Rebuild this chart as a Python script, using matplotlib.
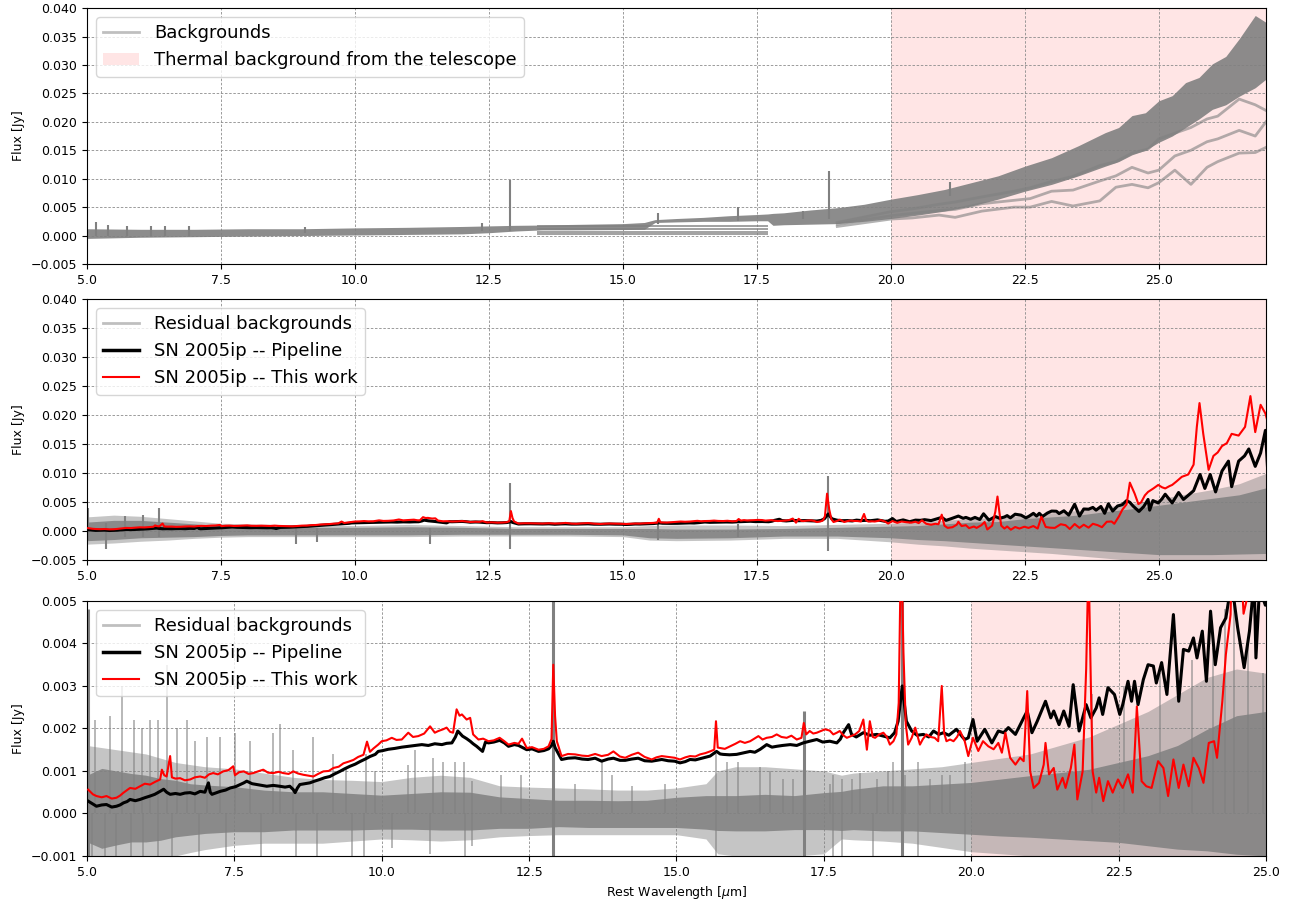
import numpy as np
import matplotlib
matplotlib.use('Agg')
import matplotlib.pyplot as plt
from matplotlib.lines import Line2D
from matplotlib.patches import Patch

# ---- SN 2005ip spectra (wavelength in micron, flux in mJy)
red_wl = [5.02, 5.10, 5.16, 5.25, 5.33, 5.42, 5.50, 5.56, 5.62, 5.68, 5.73, 5.82, 5.90, 5.98, 6.07, 6.15, 6.24, 6.27,
          6.31, 6.35, 6.41, 6.44, 6.50, 6.58, 6.66, 6.75, 6.83, 6.92, 7.00, 7.07, 7.14, 7.22, 7.31, 7.40, 7.48, 7.51,
          7.58, 7.66, 7.74, 7.82, 7.90, 7.99, 8.07, 8.16, 8.25, 8.33, 8.42, 8.50, 8.58, 8.67, 8.75, 8.84, 8.92, 9.01,
          9.10, 9.18, 9.27, 9.35, 9.44, 9.52, 9.60, 9.69, 9.75, 9.80, 9.86, 9.94, 10.00, 10.08, 10.17, 10.25, 10.34,
          10.45, 10.53, 10.62, 10.72, 10.82, 10.90, 10.96, 11.04, 11.10, 11.16, 11.21, 11.27, 11.32, 11.36, 11.44,
          11.50, 11.55, 11.64, 11.72, 11.81, 11.90, 12.00, 12.08, 12.15, 12.25, 12.32, 12.38, 12.46, 12.55, 12.66,
          12.75, 12.83, 12.88, 12.91, 12.94, 12.97, 13.05, 13.16, 13.28, 13.40, 13.50, 13.62, 13.73, 13.84, 13.93,
          14.04, 14.13, 14.24, 14.35, 14.46, 14.58, 14.66, 14.75, 14.86, 14.97, 15.06, 15.15, 15.23, 15.32, 15.40,
          15.49, 15.57, 15.64, 15.67, 15.70, 15.74, 15.82, 15.91, 16.00, 16.08, 16.16, 16.25, 16.32, 16.39, 16.46,
          16.53, 16.62, 16.70, 16.78, 16.87, 16.95, 17.04, 17.12, 17.16, 17.20, 17.26, 17.32, 17.38, 17.45, 17.52,
          17.60, 17.66, 17.72, 17.77, 17.83, 17.89, 17.96, 18.03, 18.10, 18.17, 18.23, 18.28, 18.33, 18.37, 18.44,
          18.51, 18.57, 18.62, 18.68, 18.73, 18.77, 18.81, 18.85, 18.89, 18.93, 18.99, 19.05, 19.13, 19.18, 19.24,
          19.31, 19.38, 19.44, 19.50, 19.54, 19.58, 19.64, 19.70, 19.76, 19.81, 19.89, 19.95, 20.03, 20.12, 20.20,
          20.29, 20.38, 20.46, 20.52, 20.58, 20.66, 20.75, 20.83, 20.89, 20.95, 21.00, 21.06, 21.15, 21.23, 21.26,
          21.32, 21.40, 21.46, 21.55, 21.60, 21.69, 21.75, 21.80, 21.89, 21.95, 21.99, 22.03, 22.06, 22.12, 22.17,
          22.24, 22.32, 22.40, 22.49, 22.57, 22.66, 22.74, 22.81, 22.89, 22.97, 23.06, 23.17, 23.26, 23.34, 23.43,
          23.52, 23.60, 23.69, 23.77, 23.86, 23.94, 24.03, 24.12, 24.17, 24.26, 24.32, 24.40, 24.46, 24.55, 24.62,
          24.67, 24.74, 24.80, 24.90, 24.99, 25.06, 25.12, 25.20, 25.25, 25.33, 25.43, 25.55, 25.65, 25.71, 25.76,
          25.83, 25.93, 26.02, 26.10, 26.18, 26.27, 26.36, 26.49, 26.61, 26.71, 26.80, 26.90, 26.99, 27.05]
red_flux = [0.56, 0.45, 0.41, 0.38, 0.41, 0.35, 0.37, 0.42, 0.49, 0.55, 0.60, 0.58, 0.64, 0.70, 0.68, 0.74, 0.80, 1.03,
            0.90, 0.87, 1.35, 0.85, 0.82, 0.83, 0.78, 0.80, 0.85, 0.87, 0.84, 0.92, 0.95, 0.92, 0.99, 1.02, 1.11, 0.90,
            0.97, 0.99, 0.93, 0.95, 0.99, 1.03, 0.96, 0.95, 0.98, 0.95, 0.93, 0.99, 0.94, 0.91, 0.89, 0.87, 0.93, 0.99,
            1.00, 1.07, 1.10, 1.18, 1.22, 1.26, 1.33, 1.38, 1.69, 1.45, 1.53, 1.62, 1.70, 1.72, 1.78, 1.73, 1.74,
            1.90, 1.80, 1.82, 1.88, 2.05, 1.90, 1.94, 1.98, 2.02, 1.92, 1.90, 2.45, 2.30, 2.33, 2.21,
            2.25, 1.86, 1.74, 1.76, 1.70, 1.72, 1.78, 1.70, 1.62, 1.66, 1.64, 1.76, 1.54, 1.56, 1.50,
            1.52, 1.58, 1.75, 3.50, 2.30, 1.70, 1.35, 1.40, 1.39, 1.36, 1.35, 1.40, 1.35, 1.38, 1.46,
            1.34, 1.31, 1.38, 1.43, 1.33, 1.27, 1.32, 1.35, 1.33, 1.31, 1.27, 1.32, 1.35, 1.34, 1.39,
            1.42, 1.46, 1.50, 2.17, 1.55, 1.54, 1.52, 1.58, 1.64, 1.70, 1.66, 1.70, 1.76, 1.82, 1.74,
            1.78, 1.80, 1.86, 1.80, 1.78, 1.83, 1.74, 1.78, 2.13, 1.86, 1.94, 1.88, 1.90, 1.94, 1.98,
            1.95, 1.86, 1.90, 1.94, 1.84, 1.78, 1.82, 1.86, 1.94, 2.21, 1.50, 2.17, 1.80, 1.78, 1.86,
            1.90, 1.80, 1.62, 1.70, 1.86, 2.60, 6.50, 3.80, 2.10, 1.62, 1.78, 2.02, 1.62, 1.75, 1.86,
            1.80, 1.78, 1.70, 3.00, 1.90, 1.70, 1.74, 1.70, 1.80, 1.94, 1.70, 1.35, 1.78, 1.47, 1.70,
            1.58, 1.51, 1.66, 1.43, 1.90, 1.31, 1.15, 1.31, 1.23, 2.88, 0.99, 0.60, 0.72, 1.15, 1.66,
            0.92, 1.07, 0.56, 0.84, 0.60, 1.07, 1.62, 0.33, 0.99, 3.40, 6.00, 3.00, 0.99, 0.49, 0.84,
            0.29, 0.76, 0.49, 0.80, 0.60, 0.92, 0.49, 2.52, 0.76, 0.64, 0.60, 1.23, 1.07, 0.41, 1.27,
            0.60, 1.15, 0.64, 1.31, 1.07, 0.72, 1.66, 1.70, 1.31, 2.64, 3.74, 4.68, 8.40, 6.50, 4.70,
            5.00, 6.20, 6.80, 7.40, 8.00, 7.60, 7.40, 7.80, 8.00, 8.60, 9.40, 9.80, 11.5, 18.0, 22.1,
            16.8, 10.6, 13.0, 13.6, 14.7, 15.2, 16.8, 16.5, 18.0, 23.3, 17.1, 21.8, 20.3, 18.3]

black_wl = [5.02, 5.10, 5.16, 5.25, 5.33, 5.42, 5.50, 5.56, 5.62, 5.68, 5.73, 5.82, 5.90, 5.98, 6.07, 6.15, 6.24, 6.30,
            6.35, 6.41, 6.50, 6.58, 6.66, 6.75, 6.83, 6.92, 7.00, 7.06, 7.09, 7.12, 7.20, 7.26, 7.35, 7.43, 7.52, 7.60,
            7.66, 7.71, 7.80, 7.88, 7.96, 8.05, 8.16, 8.27, 8.36, 8.44, 8.50, 8.53, 8.57, 8.61, 8.70, 8.78, 8.86, 8.95,
            9.03, 9.12, 9.20, 9.29, 9.37, 9.46, 9.55, 9.63, 9.72, 9.80, 9.89, 9.94, 10.02, 10.11, 10.22, 10.34, 10.45,
            10.56, 10.68, 10.79, 10.90, 11.02, 11.10, 11.19, 11.25, 11.29, 11.33, 11.37, 11.44, 11.50, 11.55, 11.61,
            11.66, 11.71, 11.76, 11.81, 11.90, 12.00, 12.08, 12.15, 12.25, 12.32, 12.46, 12.55, 12.66, 12.75, 12.83,
            12.88, 12.91, 12.94, 13.05, 13.16, 13.28, 13.40, 13.50, 13.62, 13.73, 13.84, 13.93, 14.04, 14.13, 14.24,
            14.35, 14.46, 14.58, 14.66, 14.75, 14.86, 14.97, 15.06, 15.15, 15.23, 15.32, 15.46, 15.57, 15.68, 15.74,
            15.79, 15.90, 16.02, 16.12, 16.25, 16.33, 16.42, 16.53, 16.62, 16.70, 16.80, 16.93, 17.04, 17.15, 17.26,
            17.38, 17.48, 17.60, 17.72, 17.78, 17.83, 17.92, 17.97, 18.05, 18.17, 18.28, 18.40, 18.51, 18.62, 18.70,
            18.76, 18.83, 18.90, 18.99, 19.08, 19.19, 19.28, 19.36, 19.45, 19.53, 19.62, 19.75, 19.85, 19.89, 19.95,
            20.03, 20.10, 20.23, 20.35, 20.46, 20.55, 20.63, 20.75, 20.89, 20.95, 21.03, 21.12, 21.26, 21.35, 21.40,
            21.49, 21.57, 21.66, 21.73, 21.83, 21.95, 22.03, 22.12, 22.17, 22.23, 22.32, 22.43, 22.52, 22.57, 22.66,
            22.72, 22.77, 22.83, 22.92, 23.00, 23.09, 23.14, 23.23, 23.32, 23.43, 23.52, 23.60, 23.69, 23.77, 23.83,
            23.92, 23.99, 24.06, 24.14, 24.23, 24.32, 24.40, 24.46, 24.52, 24.63, 24.72, 24.80, 24.83, 24.89, 24.99,
            25.06, 25.12, 25.25, 25.37, 25.46, 25.55, 25.65, 25.77, 25.86, 25.96, 26.06, 26.18, 26.30, 26.36, 26.49,
            26.60, 26.68, 26.80, 26.90, 26.99, 27.03]
black_flux = [0.29, 0.22, 0.17, 0.20, 0.21, 0.15, 0.17, 0.20, 0.25, 0.28, 0.33, 0.30, 0.33, 0.37, 0.41, 0.45, 0.52, 0.57,
              0.50, 0.45, 0.47, 0.45, 0.48, 0.49, 0.46, 0.52, 0.50, 0.72, 0.50, 0.45, 0.49, 0.52, 0.55, 0.60, 0.63, 0.68,
              0.72, 0.76, 0.70, 0.68, 0.66, 0.64, 0.66, 0.64, 0.62, 0.64, 0.56, 0.49, 0.60, 0.68, 0.70, 0.72, 0.76, 0.80,
              0.84, 0.87, 0.93, 0.99, 1.05, 1.11, 1.16, 1.22, 1.28, 1.34, 1.39, 1.46, 1.48, 1.51, 1.53, 1.56, 1.58,
              1.60, 1.62, 1.60, 1.64, 1.62, 1.65, 1.66, 1.80, 1.94, 1.88, 1.82, 1.76, 1.70, 1.64, 1.58,
              1.52, 1.46, 1.68, 1.66, 1.68, 1.72, 1.66, 1.58, 1.62, 1.60, 1.50, 1.52, 1.46, 1.48, 1.52,
              1.60, 1.70, 1.55, 1.27, 1.30, 1.31, 1.28, 1.27, 1.30, 1.23, 1.28, 1.30, 1.25, 1.25, 1.28,
              1.30, 1.24, 1.23, 1.25, 1.27, 1.24, 1.23, 1.19, 1.22, 1.27, 1.26, 1.31, 1.35, 1.46, 1.40,
              1.39, 1.38, 1.39, 1.42, 1.46, 1.44, 1.51, 1.62, 1.56, 1.58, 1.60, 1.62, 1.60, 1.66, 1.70,
              1.74, 1.68, 1.70, 1.66, 1.75, 1.90, 2.09, 1.86, 1.80, 1.90, 1.84, 1.86, 1.82, 1.78, 1.90,
              2.17, 3.00, 2.17, 1.94, 1.84, 1.86, 1.80, 1.94, 1.86, 1.90, 1.84, 1.98, 1.80, 1.74, 1.78,
              2.21, 1.70, 1.98, 1.66, 1.94, 1.90, 2.02, 1.86, 2.25, 2.41, 1.90, 2.17, 2.64, 2.25, 2.41,
              2.09, 2.41, 2.05, 3.03, 1.94, 2.56, 2.25, 2.48, 2.72, 2.33, 2.96, 2.80, 2.33, 2.56, 3.11,
              2.64, 3.11, 2.56, 3.15, 3.50, 3.47, 3.07, 3.55, 2.80, 4.68, 2.64, 3.86, 3.82, 4.13, 3.66,
              4.29, 3.11, 4.76, 3.50, 4.37, 4.60, 5.30, 5.00, 4.37, 3.43, 4.29, 5.50, 3.66, 5.30, 4.90,
              5.60, 6.40, 4.90, 6.70, 5.50, 6.20, 7.00, 9.80, 7.40, 9.80, 6.80, 10.4, 12.1, 7.70, 12.1,
              13.0, 14.2, 11.2, 13.5, 17.4, 10.9]

# ---- raw backgrounds (top panel), mJy
top_bg_wl = [5, 6, 7, 8, 9, 10, 11, 12, 12.5, 13, 13.5, 14, 15, 15.4, 15.6, 16, 16.5, 17, 17.5, 17.7, 17.8, 18, 18.5,
             19, 19.5, 20, 20.5, 21, 21.5, 22, 22.5, 23, 23.5, 24, 24.25, 24.5, 24.75, 25, 25.25, 25.5, 25.75, 26,
             26.25, 26.5, 26.8, 27]
top_bg_hi = [1.2, 1.1, 1.1, 1.2, 1.2, 1.35, 1.45, 1.6, 1.7, 1.8, 1.85, 1.95, 2.1, 2.3, 2.8, 3.0, 3.2, 3.5, 3.7, 3.8,
             3.9, 4.0, 4.5, 4.9, 5.5, 6.4, 7.2, 8.1, 9.3, 10.5, 12.2, 13.7, 15.8, 18.1, 19.0, 21.1, 21.6, 23.7, 24.6,
             26.9, 27.8, 30.2, 31.5, 34.6, 38.7, 37.5]
top_bg_lo = [-0.5, -0.3, -0.2, -0.1, 0.0, 0.1, 0.2, 0.3, 0.5, 0.8, 1.0, 1.0, 1.05, 1.1, 2.3, 2.4, 2.5, 2.5, 2.6, 2.6,
             1.8, 1.9, 2.0, 2.1, 2.5, 3.0, 3.6, 4.3, 5.2, 6.4, 7.8, 9.0, 10.5, 12.2, 13.0, 14.2, 15.0, 16.4, 17.5,
             19.0, 20.5, 22.2, 23.0, 24.5, 26.0, 27.5]
top_flat_levels = [0.2, 0.65, 1.15, 1.65]
top_flat_start = 13.4
top_flat_end = 17.7
top_low_wl = [19.0, 20.0, 20.4, 20.9, 21.2, 21.7, 22.3, 22.6, 23.0, 23.4, 23.9, 24.2, 24.5, 24.8, 25.0, 25.3, 25.6,
              25.9, 26.1, 26.5, 26.8, 27.0]
top_low_1 = [1.6, 2.9, 3.1, 3.6, 3.2, 4.3, 5.0, 5.0, 6.0, 5.2, 6.1, 8.5, 9.0, 8.4, 9.3, 11.5, 9.0, 12.0, 13.0, 14.5,
             14.6, 15.5]
top_low_2 = [2.0, 3.5, 3.9, 4.4, 4.6, 5.6, 6.2, 6.5, 7.8, 8.0, 9.6, 10.5, 12.0, 11.0, 11.5, 14.0, 15.0, 16.5, 17.0,
             18.5, 17.5, 20.0]
top_low_3 = [2.3, 4.2, 4.7, 5.5, 5.9, 6.8, 7.8, 8.4, 9.5, 10.4, 12.3, 13.0, 14.5, 15.2, 17.0, 18.0, 19.0, 20.5, 21.0,
             24.0, 23.0, 22.0]
top_spike_wl = [5.17, 5.40, 5.75, 6.20, 6.45, 6.90, 9.07, 12.38, 12.90, 15.66, 17.15, 18.37, 18.85, 21.10]
top_spike_lo = [0.0, 0.0, 0.0, 0.0, 0.0, 0.0, 0.5, 0.8, 0.8, 2.0, 2.5, 3.0, 3.0, 7.0]
top_spike_hi = [2.3, 1.9, 1.6, 1.7, 1.6, 1.6, 1.5, 2.2, 9.8, 4.0, 5.1, 4.4, 11.3, 9.5]

# ---- residual backgrounds (middle panel), mJy
mid_bg_wl = [5, 5.5, 6, 6.5, 7, 7.5, 8, 9, 10, 11, 12, 13, 14, 15, 15.5, 16, 17, 18, 19, 20, 20.5, 21, 21.5, 22, 22.5,
             23, 23.5, 24, 24.5, 25, 25.5, 26, 26.5, 27]
mid_bg_hi = [1.6, 1.9, 1.9, 1.6, 1.3, 0.9, 1.0, 0.7, 0.7, 0.8, 0.7, 0.5, 0.5, 0.5, 0.5, 0.4, 0.4, 0.5, 0.7, 0.9, 1.0,
             1.3, 1.6, 1.7, 2.2, 2.5, 2.8, 3.4, 3.9, 4.5, 5.1, 5.7, 6.3, 7.5]
mid_bg_lo = [-1.6, -1.4, -1.1, -1.0, -0.9, -0.7, -0.6, -0.6, -0.6, -0.6, -0.5, -0.5, -0.5, -0.6, -1.1, -1.2, -1.1,
             -0.8, -0.8, -1.1, -1.4, -1.6, -1.9, -2.2, -2.5, -2.8, -3.1, -3.4, -3.7, -4.0, -4.0, -4.0, -3.9, -3.8]
mid_bg_hi2 = [2.5, 2.8, 2.6, 2.2, 1.8, 1.4, 1.3, 1.1, 1.0, 1.2, 1.0, 0.8, 0.8, 0.8, 1.0, 1.1, 1.1, 1.0, 1.2, 1.4, 1.6,
              1.9, 2.2, 2.4, 2.8, 3.2, 3.6, 4.2, 4.8, 5.6, 6.4, 7.2, 8.2, 10.0]
mid_bg_lo2 = [-2.2, -2.0, -1.7, -1.5, -1.2, -1.0, -0.9, -0.9, -0.9, -0.9, -0.8, -0.8, -0.8, -0.9, -1.5, -1.6, -1.5,
              -1.2, -1.2, -1.8, -2.2, -2.5, -2.9, -3.2, -3.5, -3.8, -4.2, -4.6, -5.0, -5.5, -5.0, -5.5, -5.0, -4.8]
mid_spike_wl = [5.02, 5.35, 5.70, 6.05, 6.35, 8.90, 9.30, 11.40, 12.90, 15.66, 17.15, 18.83]
mid_spike_lo = [-1.5, -3.0, -1.0, -1.0, -1.0, -2.2, -1.8, -2.2, -3.0, -1.5, -1.0, -3.4]
mid_spike_hi = [4.0, 1.5, 2.6, 2.8, 4.1, 0.5, 0.5, 0.5, 8.4, 1.2, 1.3, 9.5]

# ---- residual backgrounds (bottom panel, zoomed), mJy
bot_bg_wl = [5.0, 5.25, 5.5, 5.75, 6.0, 6.25, 6.5, 6.75, 7.0, 7.5, 8.0, 8.5, 9.0, 9.5, 10.0, 10.5, 11.0, 11.5, 12.0,
             12.5, 13.0, 13.5, 14.0, 14.5, 15.0, 15.5, 15.7, 16.0, 16.5, 17.0, 17.5, 17.8, 18.0, 18.5, 19.0, 19.5,
             20.0, 20.5, 21.0, 21.5, 22.0, 22.5, 23.0, 23.5, 24.0, 24.5, 25.0]
bot_bg_hi = [0.90, 1.06, 1.00, 0.94, 0.90, 0.82, 0.78, 0.70, 0.67, 0.63, 0.55, 0.51, 0.51, 0.47, 0.43, 0.47, 0.51,
             0.50, 0.39, 0.35, 0.31, 0.31, 0.30, 0.31, 0.38, 0.42, 0.42, 0.42, 0.45, 0.42, 0.49, 0.52, 0.57, 0.65,
             0.65, 0.69, 0.73, 0.81, 0.89, 0.96, 1.04, 1.20, 1.36, 1.60, 1.98, 2.30, 2.40]
bot_bg_lo = [-0.67, -0.82, -0.74, -0.67, -0.67, -0.63, -0.55, -0.51, -0.47, -0.43, -0.43, -0.39, -0.39, -0.39, -0.37,
             -0.37, -0.39, -0.39, -0.35, -0.35, -0.31, -0.33, -0.33, -0.33, -0.33, -0.37, -0.40, -0.41, -0.41, -0.38,
             -0.38, -0.40, -0.38, -0.41, -0.41, -0.45, -0.49, -0.53, -0.56, -0.60, -0.64, -0.68, -0.76, -0.84, -0.88,
             -0.96, -1.00]
bot_bg_hi2 = [1.60, 1.55, 1.50, 1.45, 1.40, 1.30, 1.20, 1.15, 1.10, 1.05, 0.95, 0.85, 0.80, 0.78, 0.75, 0.85, 0.90,
              0.85, 0.65, 0.62, 0.60, 0.58, 0.55, 0.55, 0.60, 0.70, 1.00, 1.10, 1.10, 1.05, 1.00, 0.90, 0.95, 1.00,
              1.05, 1.10, 1.20, 1.30, 1.40, 1.60, 1.80, 2.10, 2.40, 2.80, 3.20, 3.40, 3.30]
bot_bg_lo2 = [-1.00, -1.00, -1.00, -1.00, -1.00, -1.00, -1.00, -0.92, -0.85, -0.75, -0.70, -0.70, -0.70, -0.65,
              -0.60, -0.62, -0.65, -0.62, -0.55, -0.52, -0.50, -0.50, -0.50, -0.50, -0.50, -0.60, -0.95, -1.00, -1.00,
              -1.00, -0.95, -0.60, -0.62, -0.65, -0.70, -0.80, -0.90, -0.95, -1.00, -1.00, -1.00, -1.00, -1.00, -1.00,
              -1.00, -1.00, -1.00]
bot_spike_wl = [5.08, 5.14, 5.30, 5.39, 5.50, 5.60, 5.75, 5.79, 5.93, 5.95, 6.07, 6.20, 6.21, 6.36, 6.45, 6.52,
                6.69, 6.83, 6.90, 7.03, 7.26, 7.35, 7.51, 7.76, 7.95, 8.16, 8.27, 8.50, 8.55, 8.84, 8.90, 9.18, 9.40,
                9.50, 9.70, 9.74, 9.88, 10.17, 10.45, 10.56, 10.82, 10.87, 11.04, 11.24, 11.40, 11.41, 11.53, 12.03,
                12.37, 13.28, 13.73, 13.90, 14.24, 14.80, 15.67, 15.85, 16.05, 16.42, 16.59, 16.81, 16.98,
                17.60, 17.66, 17.80, 17.97, 18.11, 18.33, 18.40, 18.59, 18.68, 18.88, 19.10, 19.30,
                19.50, 19.64, 19.89, 22.05, 22.60, 23.20, 23.75, 24.10, 24.30, 24.45, 24.70, 24.95]
bot_spike_lo = [-1.0, 0.0, -1.0, 0.0, -1.0, 0.0, -1.0, 0.0, 0.0, -1.0, 0.0, -1.0, 0.0, 0.0, -1.0, 0.0, 0.0, 0.0,
                -1.0, 0.0, 0.0, -1.0, 0.0, 0.0, -1.0, 0.0, 0.0, 0.0, -1.0, 0.0, -1.0, 0.0, 0.0, -1.0, -1.0, 0.0, 0.0,
                -0.81, 0.0, 0.0, -0.96, 0.0, 0.0, 0.0, 0.0, -1.0, -0.77, 0.0, 0.0, 0.0, 0.0, 0.0, 0.0, 0.0,
                -1.0, 0.0, 0.0, 0.0, 0.0, 0.0, 0.0, 0.0, -1.0, -1.0, 0.0, 0.0, -1.0, 0.0, 0.0, 0.0, 0.0,
                -1.0, 0.0, 0.0, 0.0, -1.0, 0.0, 0.0, 0.0, 0.0, 0.0, 0.0, 0.0, 0.0, 0.0]
bot_spike_hi = [0.0, 2.2, 0.0, 2.3, 0.0, 3.0, 0.0, 2.2, 2.0, 0.0, 2.2, 0.0, 2.2, 3.5, 0.0, 2.0, 2.2, 1.7, 0.0,
                1.8, 1.8, 0.0, 1.9, 1.7, 0.0, 1.9, 2.1, 1.5, 0.0, 1.8, 0.0, 1.4, 1.1, 0.0, 0.0, 1.4, 1.0, 0.0, 1.15,
                1.5, 0.0, 1.3, 1.2, 1.2, 1.2, 0.0, 0.76, 0.9, 0.9, 0.7, 1.2, 0.9, 0.65, 0.7, 1.4, 1.2, 1.2, 1.1,
                1.0, 0.8, 0.8, 0.7, 0.9, 0.8, 0.8, 0.95, 0.0, 0.8, 1.0, 1.2, 0.9, 1.2, 0.8, 0.9, 0.9, 1.2,
                2.8, 3.0, 3.3, 3.6, 3.9, 4.8, 5.0, 4.0, 3.3]
# strong residual lines running through the whole zoomed panel
bot_line_wl = [5.02, 12.90, 17.16, 18.83]
bot_line_lo = [-1.0, -1.0, -1.0, -1.0]
bot_line_hi = [4.8, 5.0, 2.4, 5.0]

mjy = 1e-3
GRAY = 'gray'

fig = plt.figure(figsize=(12.91, 9.01), dpi=100)
ax1 = fig.add_axes([0.0674, 0.707, 0.9132, 0.284])
ax2 = fig.add_axes([0.0674, 0.378, 0.9132, 0.290])
ax3 = fig.add_axes([0.0674, 0.050, 0.9132, 0.283])

def style_axes(ax, xmax, ylim, yticks):
    ax.axvspan(20, 30, color='red', alpha=0.1, lw=0, zorder=0)
    ax.set_xlim(5, xmax)
    ax.set_ylim(*ylim)
    ax.set_xticks(np.arange(5, xmax + 0.01, 2.5))
    ax.set_yticks(yticks)
    ax.set_axisbelow(True)
    ax.grid(True, color='#8c8c8c', linestyle=(0, (3, 2)), linewidth=0.6)
    ax.tick_params(labelsize=9)
    ax.set_ylabel('Flux [Jy]', fontsize=9)

# ---- top: raw backgrounds
w = np.array(top_bg_wl)
ax1.fill_between(w, np.array(top_bg_lo) * mjy, np.array(top_bg_hi) * mjy, color=GRAY, alpha=0.9, lw=0, zorder=2)
for lev in top_flat_levels:
    ax1.hlines(lev * mjy, top_flat_start, top_flat_end, color=GRAY, alpha=0.8, lw=1.3, zorder=2)
for curve in (top_low_1, top_low_2, top_low_3):
    ax1.plot(top_low_wl, np.array(curve) * mjy, color=GRAY, alpha=0.6, lw=2, zorder=2)
ax1.vlines(top_spike_wl, np.array(top_spike_lo) * mjy, np.array(top_spike_hi) * mjy, color=GRAY, lw=1.5, zorder=2)
style_axes(ax1, 27, (-0.005, 0.040), np.arange(-0.005, 0.0401, 0.005))
h_top = [Line2D([], [], color=GRAY, alpha=0.5, lw=2),
         Patch(facecolor='red', alpha=0.1)]
ax1.legend(h_top, ['Backgrounds', 'Thermal background from the telescope'], loc='upper left', fontsize=13)

# ---- middle: residual backgrounds + SN spectra
w = np.array(mid_bg_wl)
ax2.fill_between(w, np.array(mid_bg_lo2) * mjy, np.array(mid_bg_hi2) * mjy, color=GRAY, alpha=0.45, lw=0, zorder=2)
ax2.fill_between(w, np.array(mid_bg_lo) * mjy, np.array(mid_bg_hi) * mjy, color=GRAY, alpha=0.85, lw=0, zorder=2)
ax2.vlines(mid_spike_wl, np.array(mid_spike_lo) * mjy, np.array(mid_spike_hi) * mjy, color=GRAY, lw=1.5, zorder=2)
ax2.plot(black_wl, np.array(black_flux) * mjy, color='black', lw=2.2, zorder=3)
ax2.plot(red_wl, np.array(red_flux) * mjy, color='red', lw=1.5, zorder=4)
style_axes(ax2, 27, (-0.005, 0.040), np.arange(-0.005, 0.0401, 0.005))

h_mid = [Line2D([], [], color=GRAY, alpha=0.5, lw=2),
         Line2D([], [], color='black', lw=2.5),
         Line2D([], [], color='red', lw=1.5)]
labels_mid = ['Residual backgrounds', 'SN 2005ip -- Pipeline', 'SN 2005ip -- This work']
ax2.legend(h_mid, labels_mid, loc='upper left', fontsize=13)

# ---- bottom: zoom
w = np.array(bot_bg_wl)
ax3.fill_between(w, np.array(bot_bg_lo2) * mjy, np.array(bot_bg_hi2) * mjy, color=GRAY, alpha=0.45, lw=0, zorder=2)
ax3.fill_between(w, np.array(bot_bg_lo) * mjy, np.array(bot_bg_hi) * mjy, color=GRAY, alpha=0.85, lw=0, zorder=2)
ax3.vlines(bot_spike_wl, np.array(bot_spike_lo) * mjy, np.array(bot_spike_hi) * mjy, color=GRAY, alpha=0.6, lw=1.3,
           zorder=2)
ax3.vlines(bot_line_wl, np.array(bot_line_lo) * mjy, np.array(bot_line_hi) * mjy, color=GRAY, lw=2.2, zorder=2)
ax3.plot(black_wl, np.array(black_flux) * mjy, color='black', lw=2.2, zorder=3)
ax3.plot(red_wl, np.array(red_flux) * mjy, color='red', lw=1.5, zorder=4)
style_axes(ax3, 25, (-0.001, 0.005), np.arange(-0.001, 0.00501, 0.001))
ax3.set_xlabel('Rest Wavelength [$\\mu$m]', fontsize=9)
ax3.legend(h_mid, labels_mid, loc='upper left', fontsize=13)

fig.savefig('out.png', dpi=100)
